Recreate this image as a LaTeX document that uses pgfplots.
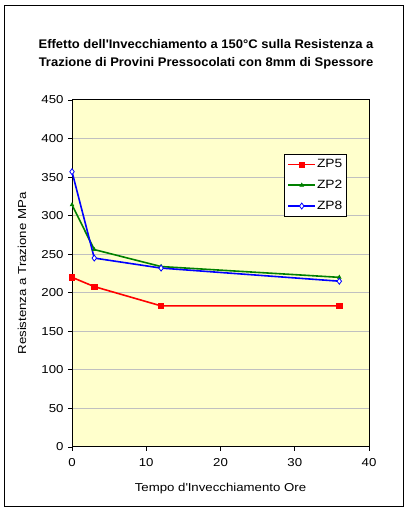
\documentclass[border=0pt]{standalone}
\usepackage{pgfplots}
\pgfplotsset{compat=1.18}
\usepackage{fontspec}
\setmainfont{Liberation Sans}
\newfontfamily\xlfont[FakeStretch=1.15]{Liberation Sans}
\newfontfamily\titlefont[FakeStretch=1.04]{Liberation Sans}
\definecolor{bgy}{HTML}{FFFFCC}
\definecolor{gridg}{HTML}{C0C0C0}
\definecolor{zgreen}{HTML}{008000}
\begin{document}
\begin{tikzpicture}[x=1bp,y=1bp]
\path[use as bounding box] (0,0) rectangle (410,511);
\draw[black, line width=1bp] (4.5,4.5) rectangle (403,505.5);
\node[font=\titlefont\fontsize{12.5bp}{18bp}\selectfont\bfseries, align=center] at (206,457) {Effetto dell\textquotesingle Invecchiamento a 150°C sulla Resistenza a\\Trazione di Provini Pressocolati con 8mm di Spessore};
\begin{axis}[
  at={(72bp,64bp)}, anchor=south west,
  scale only axis, width=297bp, height=347bp,
  xmin=0, xmax=40, ymin=0, ymax=450,
  xtick={0,10,...,40}, ytick={0,50,...,450},
  axis background/.style={fill=bgy},
  ymajorgrids, major grid style={gridg, line width=1bp},
  axis line style={black, line width=1bp},
  tick style={black, line width=0.8bp},
  tick align=outside, major tick length=4bp,
  xtick pos=bottom, ytick pos=left,
  /pgf/number format/assume math mode=true,
  ticklabel style={font=\xlfont\fontsize{11.5bp}{13bp}\selectfont},
  xticklabel style={yshift=-4bp},
  yticklabel style={xshift=-1bp},
  xlabel={Tempo d\textquotesingle Invecchiamento Ore},
  ylabel={Resistenza a Trazione MPa},
  label style={font=\xlfont\fontsize{11.5bp}{13bp}\selectfont},
  xlabel style={at={(axis description cs:0.5,0)}, anchor=center, yshift=-42bp},
  ylabel style={at={(axis description cs:0,0.5)}, anchor=center, yshift=50bp},
  legend style={at={(0.714,0.844)}, anchor=north west, draw=black, line width=0.8bp, fill=white,
    font=\xlfont\fontsize{12bp}{13bp}\selectfont, row sep=7bp, inner xsep=3bp, inner ysep=3bp,
    nodes={inner xsep=1bp}},
  legend cell align=left,
  legend image code/.code={\draw[mark repeat=2,mark phase=2,#1] plot coordinates {(0bp,0bp) (13.5bp,0bp) (27bp,0bp)};},
  every axis plot/.append style={line width=1.6bp},
]
\addplot[color=red, mark=square*, mark size=2.6bp, mark options={fill=red, line width=0.5bp}] coordinates {(0,220) (3,208) (12,183) (36,183)};
\addlegendentry{ZP5}
\addplot[color=zgreen, mark=triangle*, mark size=2.2bp, mark options={fill=zgreen, line width=0.5bp}] coordinates {(0,314) (3,256) (12,234) (36,220)};
\addlegendentry{ZP2}
\addplot[color=blue, mark=diamond*, mark size=3bp, mark options={fill=white, line width=0.8bp}] coordinates {(0,357) (3,245) (12,232) (36,215)};
\addlegendentry{ZP8}
\end{axis}
\end{tikzpicture}
\end{document}
